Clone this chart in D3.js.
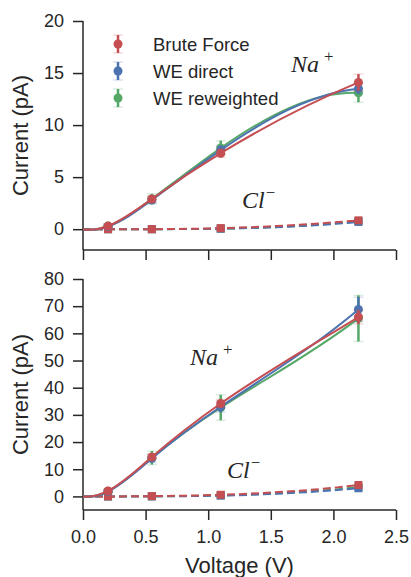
<!DOCTYPE html>
<html>
<head>
<meta charset="utf-8">
<script src="https://cdn.jsdelivr.net/npm/d3@7"></script>
<style>
  body { margin: 0; background: #fff; }
  .axis text { font-family: "Liberation Sans", Arial, sans-serif; font-size: 18px; fill: #262626; }
  .axis path, .axis line { stroke: #262626; stroke-width: 1.5; }
  .label { font-family: "Liberation Sans", Arial, sans-serif; font-size: 22px; fill: #262626; }
  .ion { font-family: "Liberation Serif", "DejaVu Serif", serif; fill: #262626; }
</style>
</head>
<body>
<script>
var w = 411;
var h = 577;

// shared voltages (V)
var voltages = [0.2, 0.55, 1.1, 2.2];
var xTicks = [0.0, 0.5, 1.0, 1.5, 2.0, 2.5];
var topTicks = [0, 5, 10, 15, 20];
var bottomTicks = [0, 10, 20, 30, 40, 50, 60, 70, 80];

var seriesNames = ["Brute Force", "WE direct", "WE reweighted"];
var colors = ["#C44E52", "#4C72B0", "#55A868"];

// top panel, Na+ current (pA) and errors
var naTopBF = [0.3, 2.9, 7.3, 14.1];
var naTopBFErr = [0.2, 0.3, 0.4, 0.8];
var naTopWE = [0.25, 2.8, 7.6, 13.5];
var naTopWEErr = [0.15, 0.3, 0.4, 0.5];
var naTopRW = [0.3, 2.9, 7.8, 13.1];
var naTopRWErr = [0.2, 0.5, 0.7, 0.9];

// top panel, Cl- current (pA)
var clTopBF = [0.0, 0.0, 0.1, 0.85];
var clTopWE = [0.0, 0.0, 0.05, 0.7];
var clTopRW = [0.0, 0.0, 0.05, 0.75];

// bottom panel, Na+ current (pA) and errors
var naBotBF = [2.0, 14.5, 34.2, 66.0];
var naBotBFErr = [0.5, 1.0, 1.5, 2.5];
var naBotWE = [1.8, 14.0, 33.0, 68.8];
var naBotWEErr = [0.5, 1.5, 2.0, 4.5];
var naBotRW = [1.9, 14.2, 32.7, 65.5];
var naBotRWErr = [0.6, 2.5, 4.7, 8.5];

// bottom panel, Cl- current (pA)
var clBotBF = [0.0, 0.1, 0.6, 4.2];
var clBotWE = [0.0, 0.0, 0.3, 3.0];
var clBotRW = [0.0, 0.05, 0.4, 3.4];

var svg = d3.select("body")
    .append("svg")
    .attr("width", w)
    .attr("height", h);

var x = d3.scaleLinear().domain([0, 2.5]).range([83, 396]);
var yTop = d3.scaleLinear().domain([-2, 20]).range([250, 21]);
var yBot = d3.scaleLinear().domain([-5, 80]).range([510, 279]);

var toPoints = function (values) {
    var pts = [[0, 0]];
    for (var i = 0; i < values.length; i++) {
        pts.push([voltages[i], values[i]]);
    }
    return pts;
}

// slopes of a "not-a-knot" cubic spline through the points
var splineSlopes = function (pts) {
    var n = pts.length;
    var hs = [], ds = [];
    for (var i = 0; i < n - 1; i++) {
        hs.push(pts[i + 1][0] - pts[i][0]);
        ds.push((pts[i + 1][1] - pts[i][1]) / hs[i]);
    }
    var A = [], b = [];
    for (var r = 0; r < n; r++) { A.push(new Array(n).fill(0)); b.push(0); }
    // end conditions: third derivative continuous at second and second-last knots
    A[0][0] = 1 / (hs[0] * hs[0]); A[0][1] = 1 / (hs[0] * hs[0]) - 1 / (hs[1] * hs[1]); A[0][2] = -1 / (hs[1] * hs[1]);
    b[0] = 2 * ds[0] / (hs[0] * hs[0]) - 2 * ds[1] / (hs[1] * hs[1]);
    var k = n - 2;
    A[n - 1][k - 1] = 1 / (hs[k - 1] * hs[k - 1]);
    A[n - 1][k] = 1 / (hs[k - 1] * hs[k - 1]) - 1 / (hs[k] * hs[k]);
    A[n - 1][k + 1] = -1 / (hs[k] * hs[k]);
    b[n - 1] = 2 * ds[k - 1] / (hs[k - 1] * hs[k - 1]) - 2 * ds[k] / (hs[k] * hs[k]);
    for (var j = 1; j < n - 1; j++) {
        A[j][j - 1] = 1 / hs[j - 1];
        A[j][j] = 2 * (1 / hs[j - 1] + 1 / hs[j]);
        A[j][j + 1] = 1 / hs[j];
        b[j] = 3 * (ds[j - 1] / hs[j - 1] + ds[j] / hs[j]);
    }
    // gaussian elimination
    for (var c = 0; c < n; c++) {
        var p = c;
        for (var r2 = c + 1; r2 < n; r2++) if (Math.abs(A[r2][c]) > Math.abs(A[p][c])) p = r2;
        var tmp = A[c]; A[c] = A[p]; A[p] = tmp;
        var tb = b[c]; b[c] = b[p]; b[p] = tb;
        for (var r3 = c + 1; r3 < n; r3++) {
            var f = A[r3][c] / A[c][c];
            for (var c2 = c; c2 < n; c2++) A[r3][c2] -= f * A[c][c2];
            b[r3] -= f * b[c];
        }
    }
    var m = new Array(n).fill(0);
    for (var r4 = n - 1; r4 >= 0; r4--) {
        var s = b[r4];
        for (var c3 = r4 + 1; c3 < n; c3++) s -= A[r4][c3] * m[c3];
        m[r4] = s / A[r4][r4];
    }
    return m;
}

var splinePath = function (pts, y) {
    var m = splineSlopes(pts);
    var p = d3.path();
    p.moveTo(x(pts[0][0]), y(pts[0][1]));
    for (var i = 0; i < pts.length - 1; i++) {
        var hh = pts[i + 1][0] - pts[i][0];
        p.bezierCurveTo(
            x(pts[i][0] + hh / 3), y(pts[i][1] + m[i] * hh / 3),
            x(pts[i + 1][0] - hh / 3), y(pts[i + 1][1] - m[i + 1] * hh / 3),
            x(pts[i + 1][0]), y(pts[i + 1][1]));
    }
    return p.toString();
}

var drawAxes = function (y, ticks, showXLabels) {
    var xAxis = d3.axisBottom(x).tickValues(xTicks).tickSize(10).tickPadding(10)
        .tickFormat(showXLabels ? d3.format(".1f") : "");
    svg.append("g")
        .attr("class", "axis")
        .attr("transform", "translate(0," + y.range()[0] + ")")
        .call(xAxis)
        .select(".domain").attr("d", "M" + x(0) + ",0H" + x(2.5));

    var yAxis = d3.axisLeft(y).tickValues(ticks).tickSize(10).tickPadding(9);
    svg.append("g")
        .attr("class", "axis")
        .attr("transform", "translate(" + x(0) + ",0)")
        .call(yAxis)
        .select(".domain").attr("d", "M0," + y.range()[0] + "V" + y(ticks[ticks.length - 1]));

    svg.append("text")
        .attr("class", "label")
        .attr("transform", "translate(28," + (y.range()[0] + y.range()[1]) / 2 + ") rotate(-90)")
        .attr("text-anchor", "middle")
        .text("Current (pA)");
}

var drawNa = function (y, values, errs, color) {
    svg.append("path")
        .attr("d", splinePath(toPoints(values), y))
        .attr("fill", "none")
        .attr("stroke", color)
        .attr("stroke-width", 2);

    var g = svg.append("g");
    values.forEach((v, i) => {
        var cx = x(voltages[i]);
        g.append("line")
            .attr("x1", cx).attr("x2", cx)
            .attr("y1", y(v - errs[i])).attr("y2", y(v + errs[i]))
            .attr("stroke", color).attr("stroke-width", 2.5);
        [v - errs[i], v + errs[i]].forEach((e) => {
            g.append("line")
                .attr("x1", cx - 5).attr("x2", cx + 5)
                .attr("y1", y(e)).attr("y2", y(e))
                .attr("stroke", color).attr("stroke-width", 1.5)
                .attr("opacity", 0.2);
        });
        g.append("circle")
            .attr("cx", cx).attr("cy", y(v))
            .attr("r", 4.5)
            .attr("fill", color);
    });
}

var drawCl = function (y, values, color) {
    svg.append("path")
        .attr("d", splinePath(toPoints(values), y))
        .attr("fill", "none")
        .attr("stroke", color)
        .attr("stroke-width", 2)
        .attr("stroke-dasharray", "8,4");

    svg.append("g")
        .selectAll("rect")
        .data(values)
        .enter()
        .append("rect")
        .attr("x", (d, i) => { return x(voltages[i]) - 4 })
        .attr("y", (d) => { return y(d) - 4 })
        .attr("width", 8)
        .attr("height", 8)
        .attr("fill", color);
}

var drawIon = function (px, py, name, sign, size) {
    var t = svg.append("text")
        .attr("class", "ion")
        .attr("x", px)
        .attr("y", py)
        .style("font-size", size + "px");
    t.append("tspan").style("font-style", "italic").text(name);
    t.append("tspan")
        .attr("dx", sign == "+" ? 5 : 1)
        .attr("dy", -size * 0.4)
        .style("font-size", (size * 0.7) + "px")
        .text(sign);
}

var drawLegend = function () {
    seriesNames.forEach((name, i) => {
        var cy = 44 + i * 27;
        svg.append("line")
            .attr("x1", 118).attr("x2", 118)
            .attr("y1", cy - 9).attr("y2", cy + 9)
            .attr("stroke", colors[i]).attr("stroke-width", 2.5);
        [cy - 9, cy + 9].forEach((e) => {
            svg.append("line")
                .attr("x1", 113).attr("x2", 123)
                .attr("y1", e).attr("y2", e)
                .attr("stroke", colors[i]).attr("stroke-width", 1.5)
                .attr("opacity", 0.2);
        });
        svg.append("circle")
            .attr("cx", 118).attr("cy", cy)
            .attr("r", 4.5)
            .attr("fill", colors[i]);
        svg.append("text")
            .attr("class", "label")
            .style("font-size", "18.5px")
            .attr("x", 153)
            .attr("y", cy + 7)
            .text(name);
    });
}

// top panel
drawAxes(yTop, topTicks, false);
drawCl(yTop, clTopRW, colors[2]);
drawCl(yTop, clTopWE, colors[1]);
drawCl(yTop, clTopBF, colors[0]);
drawNa(yTop, naTopRW, naTopRWErr, colors[2]);
drawNa(yTop, naTopWE, naTopWEErr, colors[1]);
drawNa(yTop, naTopBF, naTopBFErr, colors[0]);
drawIon(291, 72, "Na", "+", 24);
drawIon(242, 208, "Cl", "\u2212", 24);
drawLegend();

// bottom panel
drawAxes(yBot, bottomTicks, true);
drawCl(yBot, clBotRW, colors[2]);
drawCl(yBot, clBotWE, colors[1]);
drawCl(yBot, clBotBF, colors[0]);
drawNa(yBot, naBotRW, naBotRWErr, colors[2]);
drawNa(yBot, naBotWE, naBotWEErr, colors[1]);
drawNa(yBot, naBotBF, naBotBFErr, colors[0]);
drawIon(190, 365, "Na", "+", 24);
drawIon(227, 478, "Cl", "\u2212", 24);

svg.append("text")
    .attr("class", "label")
    .attr("x", x(1.25))
    .attr("y", 573)
    .attr("text-anchor", "middle")
    .text("Voltage (V)");
</script>
</body>
</html>
